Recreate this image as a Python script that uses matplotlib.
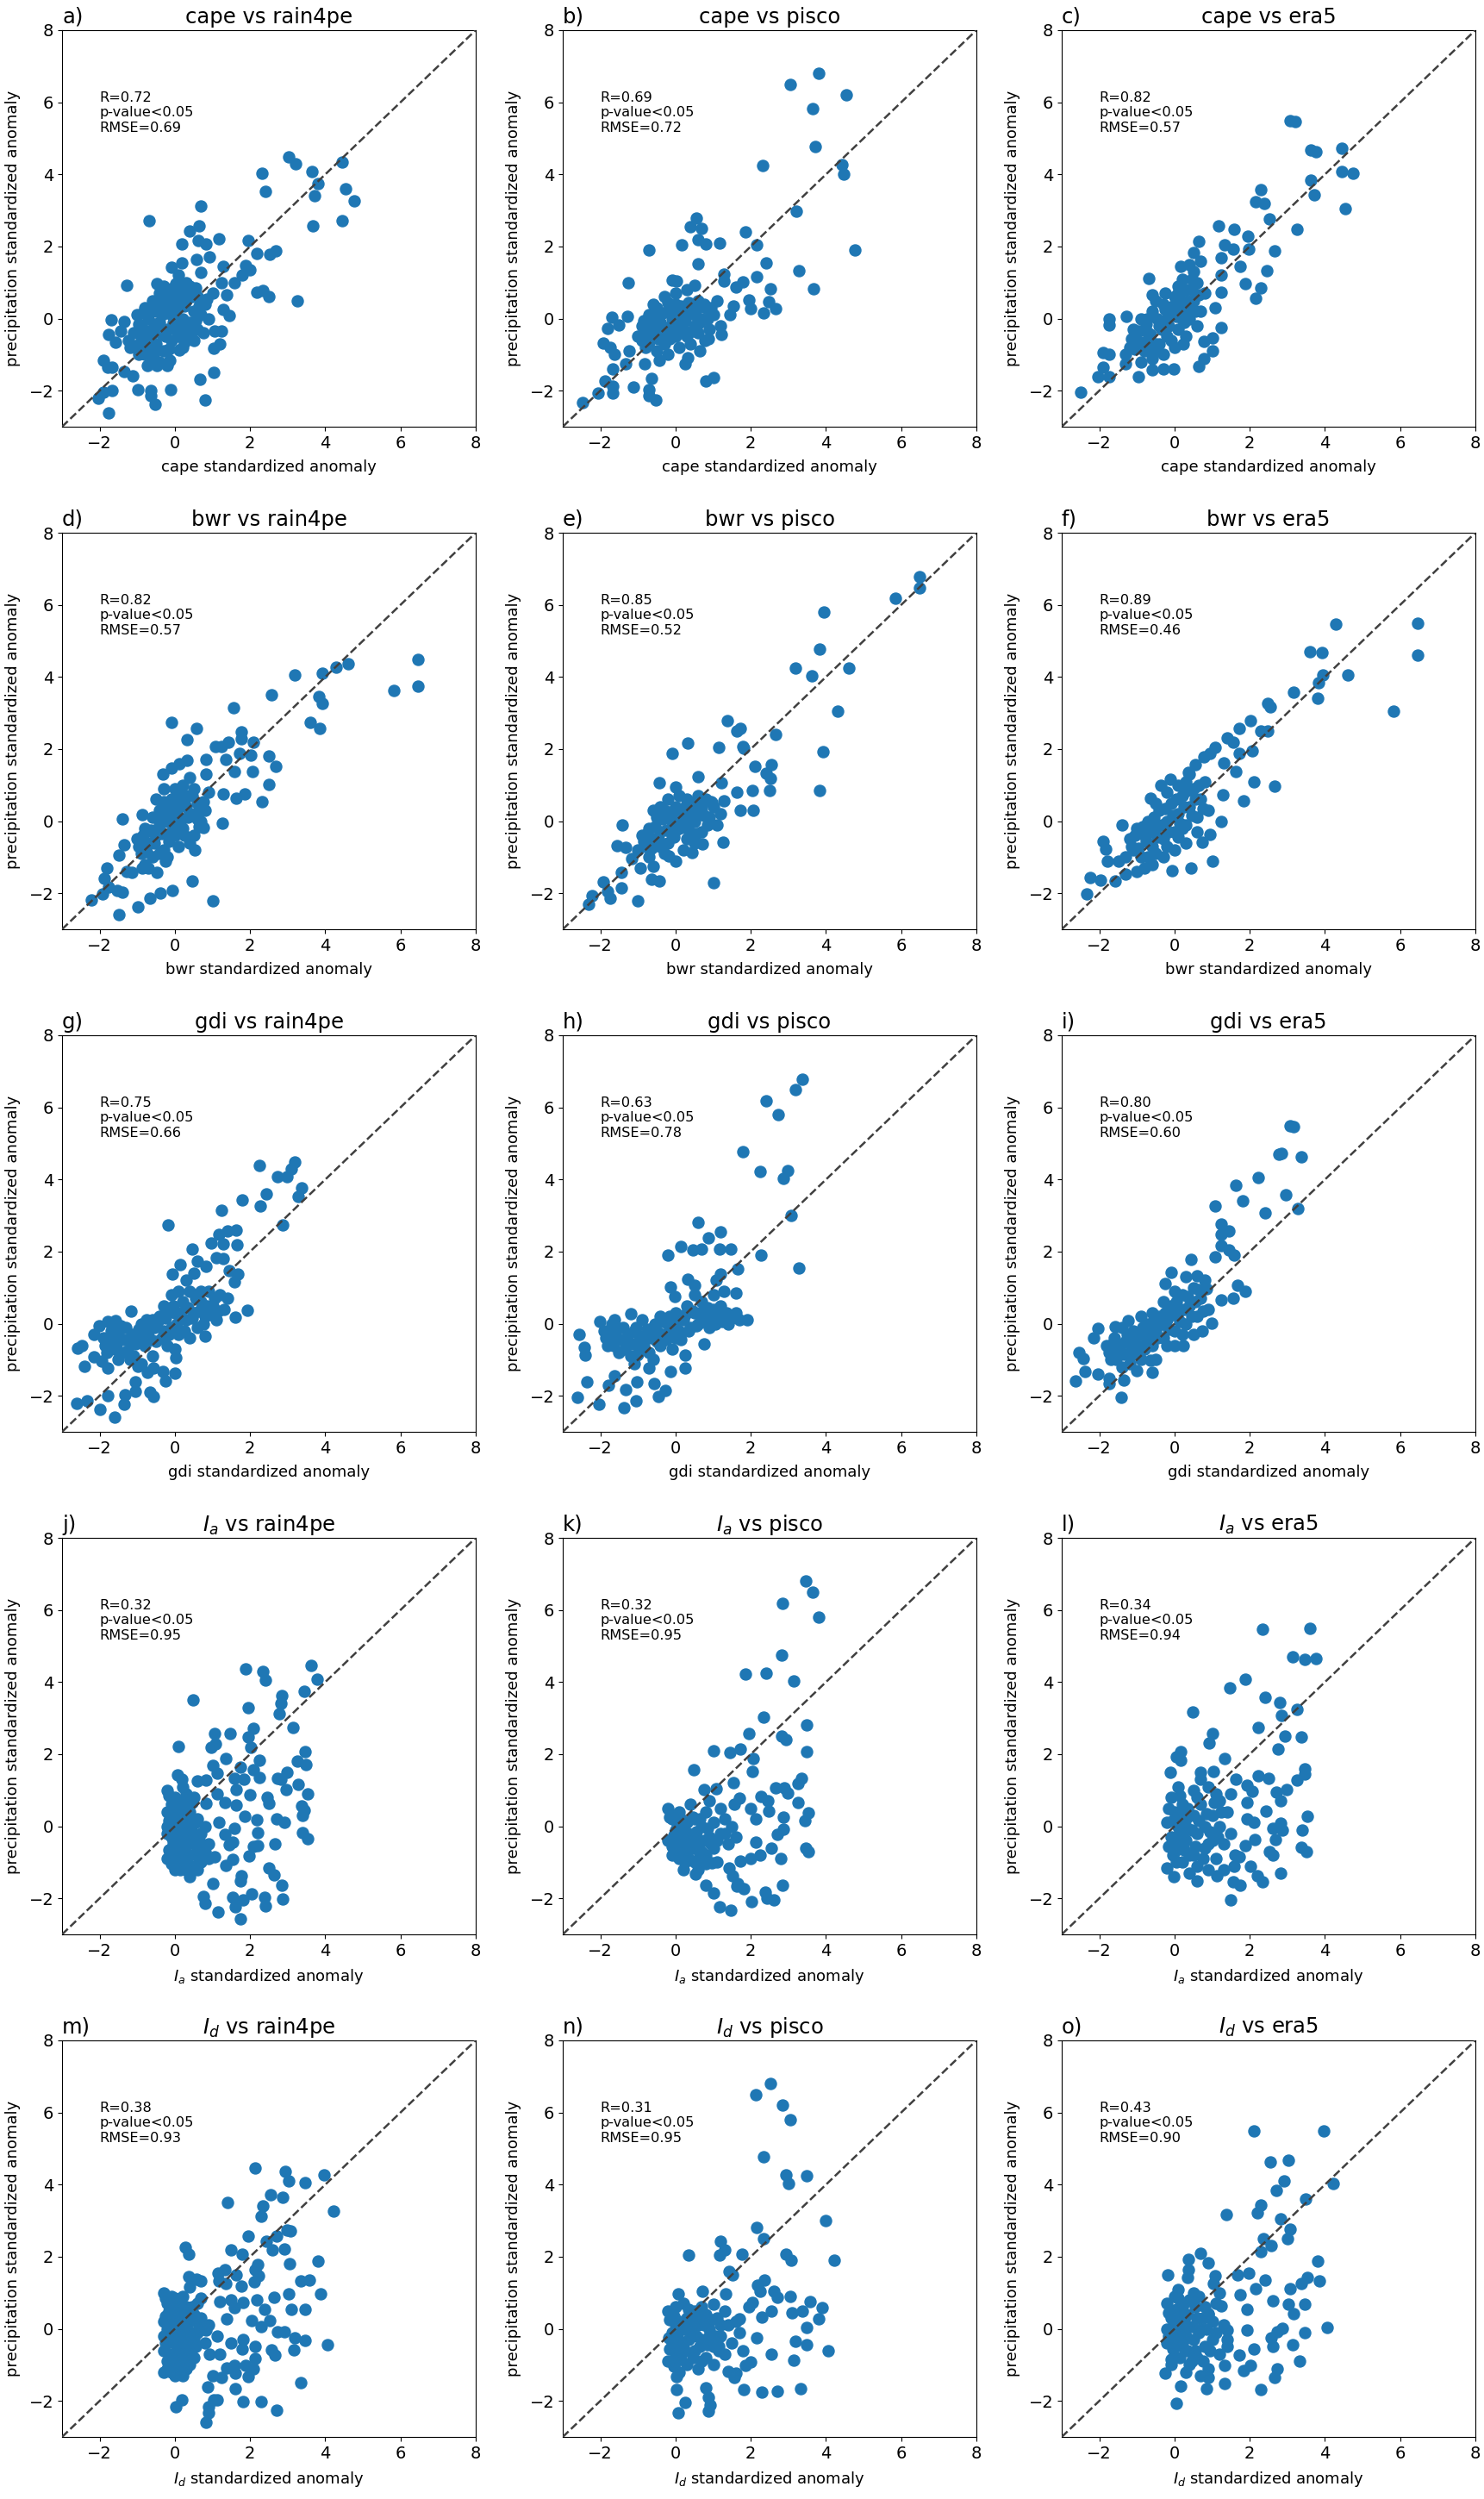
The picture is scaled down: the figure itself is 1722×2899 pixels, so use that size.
import numpy as np
import matplotlib
matplotlib.use('Agg')
import matplotlib.pyplot as plt

# predictors (rows) and precipitation products (columns)
indices = ['cape', 'bwr', 'gdi', r'$I_a$', r'$I_d$']
products = ['rain4pe', 'pisco', 'era5']
letters = list('abcdefghijklmno')

r_values = [
    [0.72, 0.69, 0.82],
    [0.82, 0.85, 0.89],
    [0.75, 0.63, 0.80],
    [0.32, 0.32, 0.34],
    [0.38, 0.31, 0.43],
]
rmse_values = [
    [0.69, 0.72, 0.57],
    [0.57, 0.52, 0.46],
    [0.66, 0.78, 0.60],
    [0.95, 0.95, 0.94],
    [0.93, 0.95, 0.90],
]

# (index anomaly, precipitation anomaly) pairs
cape_rain4pe = [
    (3.03, 4.48), (3.22, 4.29), (2.32, 4.04), (2.40, 3.52), (3.64, 4.09), (3.81, 3.74),
    (3.72, 3.41), (3.66, 2.57), (4.45, 4.35), (4.55, 3.61), (4.77, 3.26), (4.45, 2.72),
    (0.70, 3.13), (-0.68, 2.72), (0.39, 2.43), (0.64, 2.57), (0.19, 2.06), (0.61, 2.17),
    (0.82, 2.06), (1.18, 2.22), (1.96, 2.17), (2.17, 1.80), (2.53, 1.78), (2.68, 1.87),
    (0.92, 1.70), (0.57, 1.65), (0.18, 1.54), (-0.10, 1.43), (1.29, 1.45), (1.58, 1.00),
    (1.87, 1.48), (2.00, 1.35), (1.79, 1.22), (0.70, 1.28), (1.24, 1.00), (1.37, 0.65),
    (2.17, 0.74), (2.35, 0.78), (2.49, 0.61), (3.26, 0.50), (-1.28, 0.93), (-0.48, 0.96),
    (0.03, 0.96), (1.29, 0.26), (1.45, 0.09), (1.06, -0.35), (1.24, -0.35), (1.03, -0.83),
    (1.20, -0.70), (1.03, -1.50), (0.66, -1.68), (0.80, -2.26), (-0.12, -1.96), (-0.14, -1.17),
    (0.12, -0.87), (-1.70, -0.03), (-1.76, -0.43), (-1.36, -0.09), (-1.45, -0.35), (-1.57, -0.65),
    (-1.91, -1.17), (-1.78, -1.35), (-1.66, -1.35), (-1.36, -1.48), (-1.11, -1.58), (-0.98, -1.96),
    (-0.65, -2.00), (-0.65, -2.13), (-0.52, -2.39), (-1.66, -2.00), (-1.91, -2.04), (-2.03, -2.20),
    (-1.76, -2.61), (-0.48, -1.30), (-0.73, -1.30), (-1.24, -0.61), (-0.98, -0.83),
    (-1.0, 0.1), (-0.9, -0.2), (-0.8, 0.3), (-0.7, 0.0), (-0.6, -0.4), (-0.5, 0.2), (-0.4, -0.1),
    (-0.3, 0.4), (-0.2, -0.3), (-0.1, 0.1), (0.0, -0.2), (0.1, 0.3), (0.2, 0.0), (0.3, 0.5),
    (0.4, -0.1), (0.5, 0.2), (0.6, 0.6), (0.7, 0.1), (-0.9, -0.6), (-0.7, -0.8), (-0.5, -0.7),
    (-0.3, -0.9), (-0.1, -0.6), (0.1, -0.5), (0.3, -0.4), (-0.6, 0.5), (-0.4, 0.7), (-0.2, 0.6),
    (0.0, 0.5), (0.2, 0.8), (0.4, 0.9), (0.5, -0.6), (-1.1, -0.4), (-0.8, -1.0), (-0.4, -1.2),
    (0.2, -0.8), (0.8, 0.4), (0.9, 0.0), (1.0, 0.7), (-0.6, -1.1), (-0.2, -1.3), (0.6, -0.3),
    (-1.2, -0.8), (-0.3, 0.9), (0.1, 1.2), (0.3, 1.0),
    (-0.95, -0.15), (-0.85, 0.15), (-0.75, -0.35), (-0.65, 0.25), (-0.55, -0.15), (-0.45, 0.45),
    (-0.35, 0.1), (-0.25, -0.5), (-0.15, 0.3), (-0.05, -0.1), (0.05, 0.6), (0.15, -0.25),
    (0.25, 0.35), (0.35, -0.15), (0.45, 0.6), (0.55, -0.05), (0.65, 0.35), (0.75, -0.4),
    (-0.85, -0.45), (-0.55, -0.95), (-0.35, -0.45), (-0.15, -0.85), (0.05, -0.35), (0.25, -0.65),
    (0.45, -0.3), (-0.05, 0.85), (0.15, 0.55), (0.55, 0.85), (-0.65, -0.6), (-0.45, -0.25),
    (-1.05, -0.75), (-0.95, -1.0), (0.35, 0.75), (0.85, 0.55), (-0.25, 0.15),
]
cape_pisco = [
    (3.81, 6.80), (3.06, 6.49), (4.54, 6.20), (3.64, 5.82), (3.72, 4.76), (2.31, 4.25),
    (4.42, 4.27), (4.46, 4.01), (3.21, 2.99), (0.56, 2.79), (0.39, 2.55), (0.68, 2.49),
    (1.85, 2.40), (-0.70, 1.90), (0.17, 2.04), (0.60, 2.19), (0.80, 2.06), (1.17, 2.09),
    (2.16, 2.04), (4.78, 1.90), (0.60, 1.53), (2.40, 1.55), (3.27, 1.34), (1.28, 1.24),
    (2.16, 1.17), (-1.26, 1.00), (-0.09, 1.06), (0.03, 1.04), (0.51, 0.93), (1.28, 1.04),
    (1.79, 1.02), (1.60, 0.87), (2.53, 0.82), (3.66, 0.82), (1.96, 0.51), (1.99, 0.27),
    (2.47, 0.47), (2.67, 0.27), (2.35, 0.16), (1.53, 0.35), (-1.70, 0.04), (-1.28, 0.07),
    (-1.80, -0.28), (-1.50, -0.19), (-1.92, -0.68), (-1.75, -0.81), (-1.62, -0.99), (-1.24, -0.90),
    (-1.67, -1.39), (-1.87, -1.74), (-1.67, -1.88), (-1.67, -2.07), (-2.06, -2.07), (-2.47, -2.34),
    (-1.12, -1.89), (-0.70, -1.98), (-0.65, -1.65), (-0.53, -2.26), (-0.70, -2.14), (0.80, -1.74),
    (1.02, -1.64), (0.26, -1.26), (0.32, -1.08), (0.65, -0.90), (0.77, -0.62), (1.22, -0.44),
    (0.88, -0.55), (1.45, 0.12), (-0.43, -1.17), (-0.82, -1.26), (-1.33, -1.26),
    (-0.9, -0.2), (-0.7, 0.1), (-0.6, -0.5), (-0.5, 0.3), (-0.4, -0.1), (-0.3, -0.7), (-0.2, 0.2),
    (-0.1, -0.4), (0.0, 0.4), (0.1, -0.1), (0.2, 0.1), (0.3, -0.5), (0.4, 0.3), (0.5, -0.2),
    (0.6, 0.5), (0.7, 0.0), (0.8, 0.3), (0.9, -0.3), (1.0, 0.1), (-0.8, -0.8), (-0.5, -0.9),
    (-0.2, -1.0), (0.1, -0.8), (0.4, -0.7), (-0.6, 0.4), (-0.3, 0.6), (0.0, 0.7), (0.3, 0.8),
    (1.1, 0.5), (1.2, -0.2), (-1.0, -0.5), (-0.4, -0.3), (0.2, -0.3), (0.5, 0.1), (-0.1, 0.0),
    (-0.85, -0.05), (-0.75, -0.35), (-0.65, -0.15), (-0.55, 0.05), (-0.45, -0.55), (-0.35, 0.15),
    (-0.25, -0.25), (-0.15, -0.55), (-0.05, 0.25), (0.05, -0.25), (0.15, 0.35), (0.25, -0.05),
    (0.35, 0.45), (0.45, -0.35), (0.55, 0.25), (0.65, -0.1), (0.75, 0.4), (0.85, 0.0),
    (-0.7, -0.65), (-0.3, -0.45), (0.1, 0.05), (0.3, 0.25), (-0.5, -0.2), (0.0, -0.5),
    (0.6, -0.4), (-0.2, 0.45), (0.95, 0.3), (-0.9, -0.6),
]
cape_era5 = [
    (3.08, 5.50), (3.20, 5.47), (3.63, 4.67), (3.76, 4.63), (4.45, 4.72), (4.45, 4.08),
    (4.75, 4.04), (3.63, 3.85), (3.71, 3.43), (4.55, 3.06), (2.30, 3.57), (2.16, 3.24),
    (2.39, 3.19), (2.52, 2.77), (3.25, 2.48), (1.16, 2.58), (1.58, 2.48), (1.96, 2.28),
    (0.65, 2.13), (1.33, 2.04), (1.55, 1.93), (1.98, 1.93), (2.66, 1.87), (0.51, 1.84),
    (1.24, 1.68), (1.75, 1.44), (0.17, 1.44), (2.46, 1.34), (1.24, 1.22), (-0.68, 1.11),
    (1.87, 0.97), (2.30, 0.84), (2.15, 0.56), (1.24, 0.72), (-0.60, 0.65), (1.24, -0.24),
    (1.02, -0.53), (1.02, -0.90), (0.77, -0.64), (0.78, -1.12), (0.65, -1.33), (0.22, -0.71),
    (-0.03, -1.39), (-0.29, -1.39), (-0.60, -1.43), (-0.97, -1.61), (-1.31, -1.26), (-1.74, -0.99),
    (-1.91, -0.95), (-1.91, -1.35), (-2.04, -1.61), (-1.74, -1.61), (-2.50, -2.05), (-1.74, -0.02),
    (-1.74, -0.19), (-1.28, 0.07), (-0.72, -0.02), (0.39, 0.20), (1.07, 0.29),
    (-1.2, -0.8), (-1.1, -0.3), (-1.0, -0.6), (-0.9, 0.0), (-0.8, -0.9), (-0.7, -0.4), (-0.6, 0.2),
    (-0.5, -0.7), (-0.4, -0.2), (-0.3, 0.4), (-0.2, -0.5), (-0.1, 0.1), (0.0, 0.6), (0.1, -0.3),
    (0.2, 0.3), (0.3, 0.8), (0.4, 0.0), (0.5, 0.5), (0.6, 1.0), (0.7, 0.2), (-0.6, -1.1),
    (-0.3, -1.0), (0.0, -0.8), (0.3, -0.5), (-0.9, -1.2), (0.5, 1.3), (0.8, 0.7), (0.2, 1.1),
    (-0.5, 0.5), (0.1, 0.9), (-1.3, -1.0), (0.6, -0.2), (-0.2, 0.0), (0.4, 1.5), (0.7, 1.6),
    (-1.15, -0.55), (-1.05, -0.85), (-0.95, -0.35), (-0.85, -0.65), (-0.75, -0.15), (-0.65, -0.45),
    (-0.55, -0.9), (-0.45, 0.0), (-0.35, -0.3), (-0.25, 0.25), (-0.15, -0.2), (-0.05, 0.35),
    (0.05, 0.05), (0.15, 0.55), (0.25, -0.1), (0.35, 0.5), (0.45, 0.8), (0.55, 0.2),
    (0.65, 0.65), (-0.4, -0.7), (-0.1, -0.6), (0.2, 0.0), (-0.7, -0.7), (0.1, 0.7),
    (-0.25, 0.7), (0.45, 1.1),
]
bwr_rain4pe = [
    (6.46, 4.48), (6.46, 3.75), (5.82, 3.62), (4.61, 4.37), (4.29, 4.26), (3.91, 4.10),
    (3.18, 4.06), (2.56, 3.51), (3.82, 3.45), (3.91, 3.27), (3.60, 2.74), (3.85, 2.57),
    (1.55, 3.14), (-0.09, 2.74), (0.57, 2.57), (1.76, 2.47), (1.76, 2.28), (0.32, 2.25),
    (1.43, 2.19), (2.08, 2.19), (1.08, 2.06), (1.23, 2.06), (1.73, 1.88), (2.02, 1.82),
    (2.49, 1.81), (2.68, 1.51), (0.82, 1.72), (1.35, 1.72), (0.32, 1.68), (1.58, 1.38),
    (2.07, 1.37), (2.51, 1.01), (2.32, 0.54), (1.64, 0.63), (1.86, 0.75), (1.29, 0.75),
    (-0.31, 1.31), (-0.10, 1.48), (0.11, 1.59), (0.82, 1.31), (0.40, 1.22), (-1.39, 0.07),
    (-0.86, 0.18), (1.26, -0.06), (0.76, -0.19), (0.53, -0.81), (-1.36, -0.66), (-1.49, -0.94),
    (-1.80, -1.30), (-1.88, -1.59), (-1.28, -1.39), (-1.15, -1.43), (-0.48, -1.43), (-1.76, -1.84),
    (-1.53, -1.93), (-1.39, -1.98), (-1.93, -2.02), (-2.23, -2.18), (-1.49, -2.59), (-0.98, -2.38),
    (-0.66, -2.14), (-0.39, -1.99), (-0.06, -1.92), (0.45, -1.65), (1.02, -2.22), (-0.24, -1.12),
    (-0.86, -1.30),
    (-1.0, -0.5), (-0.9, -0.9), (-0.8, -0.2), (-0.7, -0.6), (-0.6, 0.1), (-0.5, -0.4), (-0.4, 0.3),
    (-0.3, -0.8), (-0.2, 0.0), (-0.1, -0.3), (0.0, 0.5), (0.1, 0.1), (0.2, -0.2), (0.3, 0.7),
    (0.4, 0.2), (0.5, -0.4), (0.6, 0.5), (0.7, 0.0), (0.8, 0.3), (-0.5, 0.6), (-0.3, 0.9),
    (0.0, 0.9), (0.2, 1.0), (-0.6, -1.0), (-0.2, -1.0), (0.1, -0.7), (0.4, -0.6), (-0.8, -1.2),
    (-0.4, -0.1), (0.3, 0.4), (0.9, 0.8), (-0.1, 0.6), (0.5, 0.9), (-0.7, -1.3), (0.0, -0.4),
    (-0.95, -0.7), (-0.85, -0.4), (-0.75, -0.85), (-0.65, -0.25), (-0.55, -0.6), (-0.45, 0.1),
    (-0.35, -0.35), (-0.25, 0.2), (-0.15, -0.55), (-0.05, 0.05), (0.05, 0.3), (0.15, -0.1),
    (0.25, 0.5), (0.35, 0.1), (0.45, 0.7), (0.55, 0.2), (0.65, -0.15), (0.75, 0.55),
    (-0.3, 0.55), (0.1, 0.75), (-0.6, -0.3), (0.0, -0.15), (-0.4, -0.9), (0.25, -0.4),
    (0.6, 0.05), (-0.2, 0.35),
]
bwr_pisco = [
    (6.48, 6.79), (6.48, 6.48), (5.85, 6.19), (3.95, 5.80), (3.83, 4.77), (3.18, 4.24),
    (3.62, 4.04), (4.61, 4.24), (4.30, 3.04), (1.38, 2.78), (1.73, 2.56), (1.62, 2.51),
    (2.67, 2.41), (0.32, 2.16), (-0.09, 1.89), (1.14, 2.05), (1.79, 2.07), (1.82, 2.01),
    (3.93, 1.92), (2.11, 1.52), (2.55, 1.56), (2.41, 1.32), (2.53, 1.19), (0.60, 1.24),
    (1.22, 1.06), (-0.43, 1.06), (0.00, 0.95), (2.04, 0.86), (2.50, 0.86), (3.84, 0.84),
    (1.62, 0.80), (1.73, 0.29), (2.07, 0.29), (1.28, 0.57), (0.97, 0.51), (-1.41, -0.11),
    (-1.55, -0.68), (-1.33, -0.72), (1.26, -0.59), (0.71, -0.63), (0.43, -0.88), (-0.19, -0.97),
    (-1.45, -1.41), (-1.45, -1.85), (-1.92, -1.69), (-1.80, -1.94), (-1.75, -2.13), (-2.23, -2.06),
    (-2.31, -2.31), (-1.00, -2.22), (-0.65, -1.62), (-0.43, -1.65), (1.00, -1.71), (-0.60, -1.25),
    (-0.94, -1.30), (-1.16, -1.03),
    (-1.0, -0.8), (-0.9, -0.4), (-0.8, -0.7), (-0.7, -0.2), (-0.6, -0.5), (-0.5, 0.1), (-0.4, -0.3),
    (-0.3, 0.3), (-0.2, -0.6), (-0.1, 0.0), (0.0, 0.4), (0.1, -0.2), (0.2, 0.2), (0.3, -0.5),
    (0.4, 0.5), (0.5, 0.0), (0.6, 0.3), (0.7, -0.3), (0.8, 0.6), (0.9, 0.1), (1.0, 0.4),
    (-0.4, 0.4), (-0.2, 0.6), (0.1, 0.7), (-0.7, -1.0), (-0.3, -0.9), (0.2, -0.8), (0.5, -0.6),
    (1.1, -0.1), (-0.6, 0.3), (0.3, 0.0), (0.6, 0.7), (-0.1, -0.4), (0.0, -1.1), (1.2, 0.2),
    (-0.85, -0.55), (-0.75, -0.35), (-0.65, -0.75), (-0.55, -0.15), (-0.45, -0.5), (-0.35, 0.05),
    (-0.25, -0.25), (-0.15, 0.25), (-0.05, -0.45), (0.05, 0.15), (0.15, -0.05), (0.25, 0.4),
    (0.35, -0.25), (0.45, 0.2), (0.55, -0.35), (0.65, 0.5), (0.75, 0.15), (0.85, -0.1),
    (0.95, 0.55), (-0.4, -0.7), (0.0, -0.25), (0.4, 0.0), (-0.2, 0.1), (0.7, 0.35), (0.3, 0.6),
]
bwr_era5 = [
    (6.47, 5.49), (4.28, 5.47), (6.47, 4.61), (3.59, 4.71), (3.92, 4.67), (4.60, 4.06),
    (3.94, 4.05), (3.83, 3.83), (3.80, 3.42), (3.17, 3.57), (5.83, 3.05), (2.47, 3.26),
    (2.54, 3.17), (2.01, 2.78), (1.72, 2.56), (2.30, 2.51), (2.47, 2.51), (1.41, 2.32),
    (1.55, 2.19), (1.07, 2.05), (0.95, 1.88), (0.77, 1.79), (1.72, 1.88), (2.06, 1.95),
    (1.31, 1.61), (0.56, 1.57), (1.64, 1.37), (0.36, 1.35), (-0.12, 1.17), (2.66, 0.98),
    (2.10, 1.08), (1.84, 0.57), (1.28, 0.73), (1.24, -0.02), (0.94, -0.37), (0.73, -0.59),
    (1.02, -1.12), (0.43, -1.30), (-0.07, -1.38), (-0.63, -0.24), (-1.40, -0.11), (-1.91, -0.55),
    (-1.82, -0.77), (-1.79, -1.10), (-1.48, -1.12), (-2.25, -1.56), (-1.96, -1.63), (-1.57, -1.65),
    (-1.31, -1.47), (-2.33, -2.02), (-0.63, 0.64), (-0.37, 1.00),
    (-1.3, -1.0), (-1.2, -0.5), (-1.1, -0.8), (-1.0, -0.2), (-0.9, -1.0), (-0.8, -0.4), (-0.7, 0.0),
    (-0.6, -0.7), (-0.5, -0.2), (-0.4, 0.3), (-0.3, -0.5), (-0.2, 0.0), (-0.1, 0.5), (0.0, -0.3),
    (0.1, 0.2), (0.2, 0.7), (0.3, -0.1), (0.4, 0.4), (0.5, 0.9), (0.6, 0.1), (0.7, 0.6),
    (0.8, 1.1), (-0.6, -1.2), (-0.3, -1.0), (0.0, -0.8), (0.3, -0.6), (-0.5, 0.5), (-0.2, 0.8),
    (0.1, 1.0), (0.4, 1.3), (-0.8, -1.3), (0.6, -0.3), (0.9, 0.3), (-1.0, -1.4), (0.2, -0.2),
    (-1.15, -0.7), (-1.05, -0.4), (-0.95, -0.75), (-0.85, -0.15), (-0.75, -0.55), (-0.65, -0.3),
    (-0.55, 0.1), (-0.45, -0.45), (-0.35, -0.1), (-0.25, 0.35), (-0.15, -0.3), (-0.05, 0.15),
    (0.05, 0.6), (0.15, -0.05), (0.25, 0.4), (0.35, 0.85), (0.45, 0.15), (0.55, 0.6),
    (0.65, 1.0), (-0.5, -0.9), (-0.2, -0.7), (0.1, -0.45), (-0.7, -1.0), (0.3, 1.1), (0.75, 0.35),
]
gdi_rain4pe = [
    (2.25, 4.38), (3.18, 4.48), (3.09, 4.29), (2.97, 4.07), (2.74, 4.09), (3.37, 3.76),
    (3.29, 3.52), (2.42, 3.61), (1.79, 3.43), (2.28, 3.27), (2.86, 2.73), (1.23, 3.14),
    (-0.18, 2.73), (1.16, 2.48), (1.41, 2.57), (1.62, 2.59), (0.97, 2.24), (1.29, 2.22),
    (1.66, 2.20), (0.45, 2.08), (1.10, 1.82), (1.29, 1.80), (0.60, 1.73), (0.82, 1.60),
    (0.13, 1.64), (-0.06, 1.38), (1.44, 1.47), (1.68, 1.38), (1.58, 1.16), (1.92, 0.38),
    (1.61, 0.19), (-1.17, 0.34), (-2.58, -0.67), (-2.48, -0.61), (-2.41, -1.18), (-2.16, -0.92),
    (-2.16, -0.30), (-2.01, -0.06), (-1.78, 0.05), (-1.57, 0.08), (-1.78, -1.23), (-1.95, -1.05),
    (0.03, -0.94), (0.01, -1.38), (-0.24, -1.60), (-0.31, -1.32), (-0.56, -1.24), (-0.73, -1.36),
    (-1.05, -1.61), (-1.05, -1.87), (-1.32, -1.96), (-1.34, -2.24), (-1.78, -2.00), (-0.66, -1.91),
    (-0.56, -2.02), (-1.99, -2.37), (-1.61, -2.59), (-2.60, -2.20), (-2.33, -2.15), (0.80, -0.34),
    (-0.98, -1.18),
    (-1.9, -0.4), (-1.7, -0.2), (-1.6, -0.7), (-1.5, -0.3), (-1.4, -0.8), (-1.3, -0.1), (-1.2, -0.5),
    (-1.1, -0.9), (-1.0, -0.3), (-0.9, 0.0), (-0.8, -0.6), (-0.7, -0.2), (-0.6, 0.1), (-0.5, -0.5),
    (-0.4, 0.2), (-0.3, -0.2), (-0.2, 0.4), (-0.1, -0.1), (0.0, 0.3), (0.1, -0.3), (0.2, 0.6),
    (0.3, 0.1), (0.4, 0.9), (0.5, 0.3), (0.6, -0.1), (0.7, 0.6), (0.8, 0.2), (0.9, 0.9),
    (1.0, 0.5), (1.1, 0.1), (1.2, 0.8), (1.3, 0.4), (0.3, 1.2), (0.5, 1.4), (-0.1, 0.8),
    (-1.5, -1.0), (-0.6, -0.9), (-0.2, -0.6), (0.4, -0.4), (1.4, 0.7), (-1.8, -0.8), (-0.9, -1.1),
    (0.0, -0.7),
    (-1.85, -0.6), (-1.75, -0.45), (-1.65, -0.3), (-1.55, -0.55), (-1.45, -0.05), (-1.35, -0.45),
    (-1.25, -0.75), (-1.15, -0.3), (-1.05, -0.55), (-0.95, -0.15), (-0.85, -0.35), (-0.75, 0.1),
    (-0.65, -0.45), (-0.55, -0.1), (-0.45, 0.05), (-0.35, -0.4), (-0.25, 0.15), (-0.15, -0.3),
    (-0.05, 0.5), (0.05, 0.0), (0.15, 0.3), (0.25, -0.2), (0.35, 0.45), (0.45, 0.15),
    (0.55, 0.7), (0.65, 0.35), (0.75, 0.0), (0.85, 0.5), (0.95, 0.25), (1.05, 0.7),
    (1.15, 0.35), (0.1, 0.9), (-0.3, 0.5), (0.7, 0.9), (-1.2, -1.0),
]
gdi_pisco = [
    (3.38, 6.79), (3.18, 6.50), (2.41, 6.19), (2.74, 5.81), (1.80, 4.76), (2.24, 4.23),
    (2.98, 4.25), (2.86, 4.04), (3.08, 3.01), (0.60, 2.81), (1.19, 2.55), (0.87, 2.39),
    (0.15, 2.13), (0.46, 2.04), (0.68, 2.06), (1.17, 2.08), (1.48, 2.08), (-0.20, 1.91),
    (2.28, 1.91), (3.28, 1.55), (1.65, 1.53), (1.19, 1.38), (0.32, 1.24), (0.51, 1.07),
    (-0.14, 1.02), (1.09, 1.20), (1.28, 0.89), (1.60, 0.85), (-0.02, 0.76), (1.90, 0.11),
    (1.48, 0.19), (-2.57, -0.30), (-2.43, -0.65), (-2.40, -0.86), (-2.01, 0.05), (-1.62, 0.10),
    (-1.19, 0.27), (-2.35, -1.62), (-2.60, -2.04), (-2.04, -2.24), (-1.62, -1.45), (-1.79, -1.71),
    (-1.33, -1.84), (-1.38, -2.33), (-1.05, -2.14), (-1.04, -1.61), (-0.56, -1.67), (-0.46, -2.02),
    (-0.27, -1.86), (-0.14, -1.32), (0.26, -1.23), (-0.70, -1.23), (-1.04, -0.87), (0.26, -0.87),
    (0.75, -0.56),
    (-1.9, -0.2), (-1.8, -0.6), (-1.7, 0.0), (-1.6, -0.4), (-1.5, -0.8), (-1.4, -0.1), (-1.3, -0.5),
    (-1.2, -0.9), (-1.1, -0.2), (-1.0, -0.6), (-0.9, 0.1), (-0.8, -0.4), (-0.7, -0.8), (-0.6, -0.1),
    (-0.5, -0.5), (-0.4, 0.2), (-0.3, -0.3), (-0.2, 0.0), (-0.1, -0.7), (0.0, 0.3), (0.1, -0.2),
    (0.2, 0.1), (0.3, 0.5), (0.4, -0.1), (0.5, 0.3), (0.6, 0.0), (0.7, 0.6), (0.8, 0.2),
    (0.9, -0.1), (1.0, 0.4), (1.1, 0.1), (1.2, 0.5), (1.3, 0.2), (1.4, 0.0), (1.6, 0.3),
    (1.7, 0.1), (-0.6, -1.0), (-1.1, -1.1), (0.0, -0.4), (0.5, 0.8), (1.0, 0.8),
    (-1.85, -0.4), (-1.75, -0.2), (-1.65, -0.6), (-1.55, -0.15), (-1.45, -0.45), (-1.35, -0.7),
    (-1.25, -0.3), (-1.15, -0.55), (-1.05, -0.1), (-0.95, -0.35), (-0.85, -0.6), (-0.75, -0.15),
    (-0.65, -0.4), (-0.55, 0.0), (-0.45, -0.25), (-0.35, 0.05), (-0.25, -0.45), (-0.15, 0.2),
    (-0.05, -0.2), (0.05, 0.1), (0.15, -0.45), (0.25, 0.25), (0.35, -0.2), (0.45, 0.35),
    (0.55, -0.05), (0.65, 0.3), (0.75, 0.05), (0.85, 0.45), (0.95, 0.2), (1.05, 0.0),
    (1.15, 0.35), (1.25, 0.05), (1.35, 0.3), (1.5, 0.15), (-1.0, -0.85), (-0.4, -0.6),
]
gdi_era5 = [
    (3.08, 5.50), (3.17, 5.46), (2.78, 4.70), (2.84, 4.73), (3.37, 4.62), (2.23, 4.05),
    (1.62, 3.85), (1.81, 3.42), (1.07, 3.26), (2.40, 3.07), (2.96, 3.58), (3.27, 3.19),
    (1.24, 2.76), (1.45, 2.57), (1.24, 2.48), (1.24, 2.17), (1.45, 2.04), (1.58, 1.91),
    (1.07, 1.86), (0.43, 1.79), (-0.09, 1.42), (0.60, 1.33), (-0.24, 1.11), (1.67, 1.07),
    (1.89, 0.89), (1.55, 0.71), (1.24, 0.67), (0.85, 0.98), (-2.03, -0.12), (-1.57, -0.08),
    (-1.23, 0.08), (-2.16, -0.39), (-2.54, -0.81), (-2.42, -0.96), (-2.37, -1.32), (-2.64, -1.60),
    (-2.03, -1.40), (-1.74, -1.52), (-1.74, -1.67), (-1.36, -1.56), (-1.43, -2.05), (-0.60, -1.36),
    (-0.63, -1.01), (0.22, -0.61), (0.73, -0.21), (0.99, 0.01),
    (-1.8, -0.6), (-1.7, -1.0), (-1.6, -0.4), (-1.5, -0.8), (-1.4, -1.2), (-1.3, -0.5), (-1.2, -0.9),
    (-1.1, -0.2), (-1.0, -0.6), (-0.9, -1.0), (-0.8, -0.3), (-0.7, 0.0), (-0.6, -0.6), (-0.5, -0.2),
    (-0.4, 0.2), (-0.3, -0.4), (-0.2, 0.1), (-0.1, 0.5), (0.0, -0.2), (0.1, 0.3), (0.2, 0.8),
    (0.3, 0.0), (0.4, 0.5), (0.5, 1.0), (0.6, 0.2), (0.7, 0.7), (0.8, 1.2), (0.9, 0.4),
    (-0.6, 0.3), (-0.3, 0.6), (0.0, 0.9), (-1.0, -1.3), (-0.5, -1.0), (0.0, -0.6), (0.3, 1.3),
    (0.5, -0.3), (-1.4, -0.1), (-0.9, 0.2),
    (-1.75, -0.8), (-1.65, -0.55), (-1.55, -1.0), (-1.45, -0.6), (-1.35, -0.85), (-1.25, -0.3),
    (-1.15, -0.65), (-1.05, -0.4), (-0.95, -0.75), (-0.85, -0.1), (-0.75, -0.45), (-0.65, -0.25),
    (-0.55, 0.1), (-0.45, -0.4), (-0.35, 0.0), (-0.25, 0.3), (-0.15, -0.15), (-0.05, 0.25),
    (0.05, 0.6), (0.15, 0.05), (0.25, 0.4), (0.35, 0.75), (0.45, 0.2), (0.55, 0.6),
    (0.65, 0.95), (0.75, 0.35), (-0.8, -0.7), (-0.2, -0.6), (0.2, -0.3), (-1.2, -1.1),
]
ia_rain4pe = [
    (3.62, 4.46), (3.79, 4.09), (1.87, 4.36), (2.35, 4.29), (2.40, 4.05), (3.45, 3.74),
    (0.49, 3.50), (1.94, 3.28), (2.84, 3.63), (2.82, 3.41), (2.78, 3.12), (3.15, 2.74),
    (2.08, 2.72), (1.05, 2.57), (1.48, 2.57), (1.96, 2.48), (0.09, 2.22), (0.97, 2.20),
    (1.08, 2.28), (2.02, 2.18), (3.47, 2.08), (1.35, 1.89), (2.24, 1.82), (3.26, 1.80),
    (3.49, 1.71), (1.75, 1.64), (1.00, 1.69), (2.08, 1.56), (1.12, 1.46), (2.24, 1.36),
    (0.08, 1.42), (0.18, 1.30), (0.60, 1.25), (0.82, 1.27), (1.58, 1.33), (1.83, 1.30),
    (2.72, 1.33), (2.97, 1.49), (2.82, 1.31), (3.29, 1.16), (2.95, 1.01), (3.53, 0.90),
    (1.62, 1.01), (2.00, 0.87), (2.45, 0.80), (2.49, 0.63), (1.12, 0.89), (0.82, 0.63),
    (1.34, 0.65), (1.64, 0.59), (3.38, 0.56), (3.45, 0.45), (3.40, 0.30), (2.71, 0.21),
    (2.91, 0.10), (2.17, 0.17), (1.85, 0.27), (1.18, 0.12), (1.58, -0.05), (1.54, -0.45),
    (2.21, -0.19), (3.39, -0.19), (3.53, -0.34), (2.66, -0.49), (2.21, -0.54), (2.08, -0.56),
    (1.98, -0.82), (1.33, -0.23), (1.45, -0.52), (1.06, -0.85), (1.35, -1.09), (1.54, -0.93),
    (2.50, -1.16), (2.63, -1.35), (2.84, -1.64), (1.02, -1.60), (1.77, -1.38), (1.75, -1.51),
    (0.76, -1.95), (0.80, -2.13), (1.54, -1.97), (1.60, -2.23), (1.81, -2.04), (2.04, -1.88),
    (2.38, -1.97), (2.40, -2.21), (2.86, -2.02), (1.14, -2.37), (1.75, -2.58),
    (-0.2, 1.0), (-0.1, 0.6), (0.0, 0.8), (0.1, 0.3), (0.2, 0.7), (0.0, 0.2), (-0.2, 0.4),
    (0.1, -0.1), (-0.1, -0.3), (0.2, -0.5), (0.0, -0.7), (-0.2, -0.9), (0.1, -1.0), (0.3, -1.2),
    (0.0, -1.2), (0.4, 0.4), (0.3, 0.0), (0.5, -0.3), (0.4, -0.8), (0.6, -0.6), (0.5, 0.8),
    (0.6, 0.2), (0.7, -0.2), (0.8, -0.7), (0.7, -1.0), (0.9, -0.5), (0.4, -1.4), (0.2, 1.1),
    (-0.2, -0.2), (0.3, 0.9), (-0.1, -0.6), (0.6, -1.2), (0.8, 0.0), (0.9, -0.9), (0.2, -0.3),
    (-0.2, 0.0), (0.5, -1.1), (0.1, 0.5),
    (-0.15, 0.85), (-0.05, 0.45), (0.05, 0.65), (0.15, 0.1), (0.25, 0.45), (-0.15, 0.15),
    (0.05, -0.15), (-0.05, -0.45), (0.15, -0.35), (0.25, -0.75), (-0.15, -0.65), (0.05, -0.95),
    (-0.1, -1.05), (0.15, -1.2), (0.35, -0.5), (0.45, -0.15), (0.55, 0.1), (0.65, -0.4),
    (0.55, -0.75), (0.75, -0.55), (0.35, 0.25), (0.45, 0.65), (0.65, -0.95), (0.3, -0.95),
    (-0.1, 0.2), (0.0, 0.0), (0.2, -0.6), (0.4, -0.25), (0.1, -0.4), (-0.05, -0.8),
]
ia_pisco = [
    (3.47, 6.80), (3.64, 6.49), (2.84, 6.19), (3.81, 5.81), (2.81, 4.75), (1.85, 4.22),
    (2.41, 4.25), (3.15, 4.03), (2.35, 3.02), (3.49, 2.80), (1.96, 2.57), (2.81, 2.50),
    (2.94, 2.40), (1.00, 2.09), (1.73, 2.15), (1.45, 2.04), (2.06, 1.89), (3.49, 2.06),
    (0.48, 1.56), (2.04, 1.53), (3.35, 1.34), (1.53, 1.21), (3.25, 1.18), (2.67, 1.07),
    (2.89, 1.07), (0.75, 1.02), (1.09, 1.05), (2.98, 0.92), (2.26, 0.83), (2.45, 0.70),
    (3.25, 0.65), (1.70, 0.77), (1.56, 0.61), (1.99, 0.48), (2.47, 0.41), (3.52, 0.36),
    (2.87, 0.26), (3.44, 0.15), (2.13, 0.21), (2.87, -0.08), (2.70, -0.23), (3.47, -0.61),
    (3.52, -0.70), (2.55, -0.61), (2.13, -0.45), (2.79, -0.89), (2.24, -0.80), (1.99, -0.89),
    (1.73, -0.96), (1.43, -1.17), (1.51, -1.38), (1.65, -1.60), (1.82, -1.73), (1.62, -1.67),
    (0.80, -1.64), (1.00, -1.86), (1.17, -2.23), (1.48, -2.32), (2.02, -2.08), (2.38, -1.82),
    (2.43, -1.99), (2.62, -2.04), (2.84, -1.64), (0.54, -1.33), (0.97, -1.02),
    (-0.2, 0.5), (-0.1, 0.2), (0.0, -0.1), (0.1, 0.4), (-0.2, -0.4), (0.0, -0.6), (0.2, -0.2),
    (0.3, 0.1), (0.1, -0.9), (0.3, -0.7), (0.4, -0.3), (0.5, 0.2), (0.5, -1.0), (0.6, -0.5),
    (0.7, 0.0), (0.8, -0.8), (0.8, 0.4), (0.9, -0.3), (1.0, 0.1), (1.0, -0.6), (1.1, -1.0),
    (1.2, -0.2), (1.3, 0.2), (1.4, -0.5), (1.5, 0.0), (0.2, -1.2), (0.4, 0.6), (-0.1, -0.8),
    (0.6, -1.2), (1.2, 0.5), (0.0, 0.3), (0.4, -0.5), (0.7, -0.7), (1.6, -0.3), (0.9, 0.7),
    (0.2, 0.1),
    (-0.15, 0.25), (-0.05, -0.25), (0.05, 0.05), (0.15, -0.4), (0.25, -0.55), (0.05, -0.35),
    (0.35, -0.2), (0.45, -0.6), (0.55, -0.15), (0.65, -0.8), (0.75, -0.4), (0.85, -0.05),
    (0.95, -0.5), (0.15, 0.2), (0.35, -0.9), (0.45, 0.25), (-0.1, -0.55), (0.25, -1.0),
    (0.65, 0.2), (1.1, -0.4), (0.55, -0.45), (0.8, -1.05), (1.3, -0.2), (0.2, -0.7),
]
ia_era5 = [
    (2.35, 5.46), (3.61, 5.48), (3.15, 4.71), (3.46, 4.62), (3.76, 4.65), (1.87, 4.07),
    (1.48, 3.83), (2.40, 3.58), (2.79, 3.43), (3.25, 3.24), (2.84, 3.08), (0.48, 3.17),
    (2.23, 2.75), (1.02, 2.57), (0.92, 2.30), (2.93, 2.49), (3.37, 2.48), (2.76, 2.13),
    (0.17, 2.06), (0.17, 1.84), (0.05, 1.93), (1.33, 1.89), (3.46, 1.58), (3.46, 1.45),
    (-0.12, 1.49), (0.68, 1.49), (1.04, 1.51), (2.23, 1.40), (2.49, 1.33), (3.25, 1.27),
    (1.64, 1.31), (1.93, 1.14), (2.06, 0.96), (2.71, 0.94), (2.98, 1.02), (2.83, 0.70),
    (1.93, 0.65), (2.44, 0.43), (3.54, 0.27), (1.93, 0.21), (2.10, 0.12), (2.81, 0.08),
    (2.61, -0.05), (3.39, -0.10), (2.86, -0.10), (3.37, -0.58), (3.51, -0.70), (2.13, -0.36),
    (2.69, -0.36), (1.87, -0.54), (2.52, -0.71), (2.61, -0.80), (1.72, -0.85), (2.01, -1.11),
    (1.58, -1.11), (2.81, -1.31), (2.21, -1.38), (2.35, -1.55), (1.55, -1.55), (1.75, -1.64),
    (1.50, -2.04), (1.12, -1.38), (0.60, -1.51), (-0.03, -1.40), (-0.20, -1.16),
    (-0.1, 0.8), (0.0, 0.4), (0.1, 0.0), (-0.1, -0.3), (0.0, -0.7), (0.2, -1.0), (0.2, 0.6),
    (0.3, 0.2), (0.3, -0.4), (0.4, -0.8), (0.5, 1.0), (0.5, 0.3), (0.6, -0.2), (0.6, -1.1),
    (0.7, 0.6), (0.8, 0.0), (0.8, -0.6), (0.9, 1.1), (1.0, 0.3), (1.0, -0.4), (1.1, -0.9),
    (1.2, 0.7), (1.2, 0.0), (1.3, -0.5), (1.4, 0.4), (1.5, -0.2), (1.5, 0.9), (1.6, -0.8),
    (0.1, 1.1), (-0.2, 0.1), (0.4, -1.3), (0.9, -1.2), (0.7, 1.3), (1.1, 0.9), (0.2, -0.2),
    (1.3, -1.2),
    (-0.15, 0.5), (-0.05, 0.15), (0.05, -0.45), (-0.15, -0.55), (0.05, -1.0), (0.15, 0.35),
    (0.25, -0.65), (0.35, 0.5), (0.45, -0.1), (0.55, -0.55), (0.65, 0.15), (0.75, -0.9),
    (0.85, 0.35), (0.95, -0.15), (1.05, 0.65), (1.15, -0.3), (0.15, 0.85), (0.35, -0.05),
    (0.6, 0.8), (0.9, -0.5), (-0.05, -0.8), (0.5, -0.8), (1.25, 0.4), (0.1, -0.25),
]
id_rain4pe = [
    (2.13, 4.46), (2.93, 4.36), (3.03, 4.11), (3.97, 4.27), (3.47, 4.05), (2.55, 3.73),
    (2.86, 3.64), (1.39, 3.50), (2.34, 3.42), (2.29, 3.13), (4.23, 3.27), (2.98, 2.73),
    (3.07, 2.71), (1.94, 2.58), (2.71, 2.56), (2.42, 2.44), (0.28, 2.25), (0.36, 2.07),
    (1.50, 2.19), (1.79, 2.07), (2.60, 2.18), (2.91, 2.22), (3.81, 1.87), (3.06, 1.81),
    (2.21, 1.78), (2.14, 1.65), (2.23, 1.47), (2.11, 1.31), (1.34, 1.65), (1.14, 1.54),
    (1.18, 1.34), (1.64, 1.49), (1.36, 1.25), (1.77, 1.19), (0.36, 1.45), (0.57, 1.38),
    (0.70, 1.32), (0.40, 1.16), (3.34, 1.32), (3.58, 1.35), (3.03, 0.98), (3.87, 0.96),
    (2.63, 0.88), (2.17, 0.81), (1.50, 0.81), (1.82, 0.72), (1.20, 0.76), (0.70, 0.85),
    (3.09, 0.54), (3.47, 0.54), (2.38, 0.54), (1.58, 0.58), (2.04, 0.23), (2.52, 0.23),
    (2.73, -0.08), (2.92, -0.08), (2.29, 0.05), (1.37, 0.27), (1.12, -0.21), (0.82, -0.04),
    (1.50, -0.39), (1.82, -0.30), (2.14, -0.48), (1.79, -0.57), (3.18, -0.26), (3.47, -0.33),
    (4.06, -0.43), (3.16, -0.58), (2.56, -0.58), (2.66, -0.74), (0.91, -0.70), (1.20, -0.70),
    (2.14, -0.83), (1.37, -1.08), (1.58, -1.01), (1.89, -1.01), (1.61, -1.23), (1.96, -1.32),
    (2.08, -1.10), (1.24, -1.36), (1.01, -1.30), (0.87, -1.61), (1.61, -1.67), (3.34, -1.50),
    (1.03, -1.96), (1.12, -1.96), (0.89, -2.16), (0.89, -2.34), (0.82, -2.60), (1.82, -2.01),
    (2.29, -2.03), (2.71, -2.25), (0.03, -2.16), (0.19, -1.96),
    (-0.3, 1.0), (-0.2, 0.7), (-0.1, 0.9), (0.0, 0.5), (0.1, 0.8), (0.2, 0.3), (-0.3, 0.2),
    (-0.2, 0.0), (-0.1, -0.3), (0.0, 0.1), (0.1, -0.5), (0.2, -0.1), (0.3, 0.6), (0.3, -0.7),
    (0.4, 0.2), (0.5, -0.3), (-0.3, -0.6), (-0.2, -0.9), (-0.1, -1.2), (0.0, -0.8), (0.1, -1.0),
    (0.2, -1.3), (0.3, -1.1), (0.4, -0.6), (0.5, 0.4), (0.6, -0.1), (-0.3, -1.2), (0.0, -1.3),
    (0.2, 0.9), (0.4, -1.0), (0.6, 0.7), (0.7, 0.3), (0.8, -0.4), (0.9, 0.1), (-0.1, 0.3),
    (0.1, 0.0), (0.3, -0.3), (0.5, -0.8), (-0.2, -0.4),
    (-0.25, 0.85), (-0.15, 0.5), (-0.05, 0.7), (0.05, 0.3), (0.15, 0.55), (-0.25, 0.35),
    (-0.15, -0.15), (-0.05, 0.0), (0.05, -0.35), (0.15, -0.2), (0.25, 0.1), (-0.25, -0.4),
    (-0.15, -0.7), (-0.05, -0.95), (0.05, -0.55), (0.15, -0.8), (0.25, -0.45), (0.35, -0.9),
    (0.35, 0.35), (0.45, -0.1), (-0.2, -1.1), (0.1, -1.15), (0.25, -0.95), (0.45, 0.6),
    (0.55, -0.5), (0.65, 0.1), (0.0, 0.85), (-0.3, -0.2), (0.3, -0.1), (0.2, 0.6),
]
id_pisco = [
    (2.53, 6.81), (2.13, 6.49), (2.84, 6.20), (3.04, 5.81), (2.35, 4.77), (2.94, 4.26),
    (3.01, 4.04), (3.49, 4.24), (3.98, 3.00), (2.16, 2.80), (2.35, 2.50), (1.19, 2.42),
    (1.31, 2.18), (1.17, 2.04), (0.34, 2.04), (1.77, 2.07), (2.93, 2.07), (3.08, 1.91),
    (4.22, 1.91), (1.43, 1.58), (1.51, 1.49), (2.36, 1.35), (2.19, 1.22), (2.24, 1.03),
    (2.62, 1.03), (2.70, 0.87), (3.04, 0.89), (3.57, 0.76), (3.90, 0.58), (3.81, 0.27),
    (3.49, 0.04), (2.55, 0.50), (3.10, 0.45), (3.37, 0.50), (2.04, 0.73), (1.96, 0.60),
    (2.30, 0.32), (1.70, 0.27), (1.33, 0.98), (0.71, 1.04), (1.00, 0.69), (0.07, 0.98),
    (3.18, -0.35), (3.49, -0.45), (4.05, -0.61), (3.15, -0.88), (2.55, -0.70), (2.16, -0.26),
    (1.99, -0.92), (1.85, -1.01), (1.39, -1.19), (1.56, -1.36), (1.60, -1.23), (1.82, -1.69),
    (2.30, -1.76), (2.70, -1.74), (3.32, -1.65), (0.03, -1.69), (0.80, -1.63), (0.88, -1.89),
    (0.92, -2.12), (0.88, -2.29), (0.26, -2.05), (0.07, -2.34), (0.03, -1.32), (-0.05, -1.05),
    (-0.17, -0.26), (1.14, -0.48),
    (-0.2, 0.5), (0.0, 0.6), (0.1, 0.2), (-0.1, -0.1), (0.2, -0.4), (0.0, -0.7), (-0.2, -0.9),
    (0.3, 0.3), (0.4, -0.1), (0.5, 0.5), (0.5, -0.6), (0.6, 0.1), (0.7, -0.3), (0.8, 0.4),
    (0.8, -0.8), (0.9, 0.0), (1.0, -0.5), (1.1, 0.3), (1.2, -0.2), (1.3, -0.7), (1.4, 0.1),
    (1.5, -0.4), (1.6, 0.2), (1.7, -0.1), (0.3, -1.0), (0.1, -1.2), (0.6, -1.1), (1.0, -1.0),
    (0.2, 0.7), (0.4, 0.0), (-0.1, -0.4), (0.7, 0.6), (1.3, 0.5), (1.8, -0.6), (0.9, -0.2),
    (0.0, 0.1),
    (-0.15, 0.25), (-0.05, 0.35), (0.05, -0.2), (0.15, 0.0), (0.25, -0.6), (-0.15, -0.55),
    (0.05, -0.45), (0.15, -0.85), (0.35, -0.3), (0.45, 0.2), (0.55, -0.2), (0.65, -0.5),
    (0.75, 0.1), (0.85, -0.45), (0.95, 0.25), (1.05, -0.2), (1.15, -0.6), (0.35, 0.55),
    (0.25, 0.0), (-0.05, -1.0), (0.45, -0.8), (0.7, -0.9), (1.2, 0.1), (0.55, 0.3),
]
id_era5 = [
    (2.10, 5.48), (3.97, 5.48), (2.54, 4.64), (3.03, 4.68), (2.91, 4.10), (2.71, 3.84),
    (4.21, 4.04), (3.48, 3.59), (1.38, 3.17), (2.30, 3.43), (2.21, 3.22), (2.83, 3.06),
    (3.07, 2.77), (3.00, 2.49), (2.37, 2.49), (2.57, 2.31), (2.30, 2.13), (3.80, 1.87),
    (0.36, 1.93), (0.68, 2.09), (0.90, 1.82), (0.36, 1.65), (-0.17, 1.49), (0.34, 1.42),
    (1.07, 1.47), (1.67, 1.50), (1.98, 1.54), (2.40, 1.35), (3.85, 1.32), (3.54, 1.42),
    (3.37, 1.25), (3.07, 1.12), (1.04, 1.25), (1.75, 0.94), (2.15, 1.12), (2.61, 0.78),
    (3.03, 0.69), (3.46, 0.69), (3.17, 0.41), (4.05, 0.04), (3.46, -0.11), (2.86, 0.01),
    (2.74, -0.08), (2.57, -0.26), (2.61, -0.48), (3.15, -0.43), (2.10, -0.57), (1.72, -0.74),
    (2.01, -1.01), (1.84, -1.17), (2.73, -1.10), (2.66, -1.36), (3.32, -0.89), (2.30, -1.69),
    (1.33, -1.52), (0.90, -1.35), (0.85, -1.67), (0.17, -1.58), (0.05, -2.07), (-0.24, -1.23),
    (1.33, -1.01), (1.41, -0.48), (1.93, -0.04), (1.41, -0.04), (1.93, 0.54), (1.24, 0.63),
    (0.90, 0.41),
    (-0.2, 0.7), (-0.1, 0.3), (0.0, 0.9), (0.1, -0.1), (-0.2, -0.4), (0.0, -0.8), (0.2, 0.5),
    (0.2, -0.5), (0.3, 0.1), (0.4, -1.0), (0.4, 0.8), (0.5, -0.3), (0.6, 0.3), (0.6, -0.8),
    (0.7, 0.0), (0.8, 0.6), (0.8, -0.5), (0.9, -1.1), (1.0, 0.2), (1.0, -0.3), (1.1, 0.7),
    (1.2, -0.7), (1.3, 0.1), (1.4, -0.3), (-0.1, -1.0), (0.1, 1.1), (0.3, -1.2), (0.5, 1.0),
    (1.2, 1.0), (-0.2, 0.0), (0.1, 0.4), (0.7, -1.3), (0.3, -0.2), (0.9, 0.4),
    (-0.15, 0.45), (-0.05, 0.05), (0.05, 0.55), (-0.15, -0.2), (-0.05, -0.55), (0.05, -0.3),
    (0.15, 0.2), (0.15, -0.8), (0.25, 0.7), (0.25, -0.3), (0.35, -0.6), (0.35, 0.4),
    (0.45, 0.05), (0.55, 0.6), (0.55, -0.6), (0.65, -0.1), (0.75, 0.3), (0.75, -0.9),
    (0.85, 0.0), (0.95, -0.6), (-0.1, -0.85), (0.1, 0.85), (0.45, -0.9), (1.1, -0.1), (0.65, 0.9),
]

panels = [
    [cape_rain4pe, cape_pisco, cape_era5],
    [bwr_rain4pe, bwr_pisco, bwr_era5],
    [gdi_rain4pe, gdi_pisco, gdi_era5],
    [ia_rain4pe, ia_pisco, ia_era5],
    [id_rain4pe, id_pisco, id_era5],
]

# layout in pixels of the 1722x2899 output
W, H = 1722, 2899
col_left = [72, 653, 1232]
row_top = [35 + 583 * i for i in range(5)]
ax_w, ax_h = 480, 460

fig = plt.figure(figsize=(W / 100, H / 100), dpi=100)

for i, idx in enumerate(indices):
    for j, prod in enumerate(products):
        left = col_left[j] / W
        bottom = 1 - (row_top[i] + ax_h) / H
        ax = fig.add_axes([left, bottom, ax_w / W, ax_h / H])

        pts = np.array(panels[i][j])
        ax.scatter(pts[:, 0], pts[:, 1], s=88, color='#1f77b4', zorder=2)
        ax.plot([-3, 8], [-3, 8], '--', color='#404040', lw=1.8, zorder=3)

        ax.set_xlim(-3, 8)
        ax.set_ylim(-3, 8)
        ax.set_xticks([-2, 0, 2, 4, 6, 8])
        ax.set_yticks([-2, 0, 2, 4, 6, 8])
        ax.tick_params(labelsize=14)

        ax.set_title(f'{idx} vs {prod}', fontsize=17.5)
        ax.set_title(f'{letters[i * 3 + j]})', loc='left', fontsize=17.5)
        ax.set_xlabel(f'{idx} standardized anomaly', fontsize=13, labelpad=7)
        ax.set_ylabel('precipitation standardized anomaly', fontsize=13, labelpad=7)

        txt = f'R={r_values[i][j]:.2f}\np-value<0.05\nRMSE={rmse_values[i][j]:.2f}'
        ax.text(-2, 6.3, txt, fontsize=11.6, va='top', ha='left')

fig.savefig('out.png', dpi=100)
